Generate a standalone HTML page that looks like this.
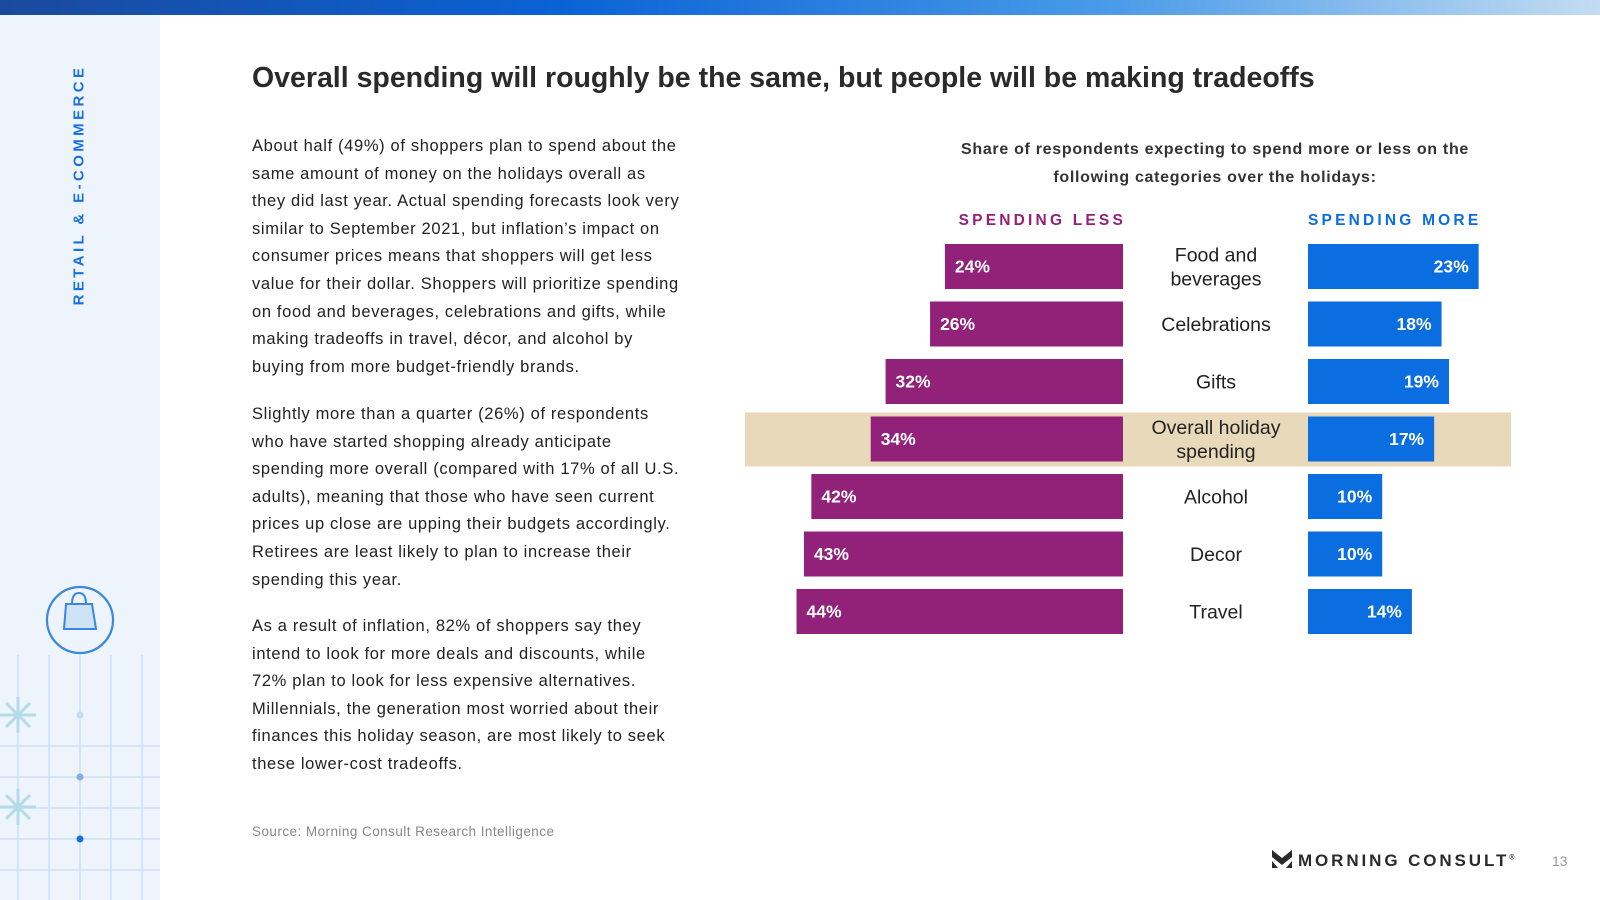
<!DOCTYPE html>
<html><head><meta charset="utf-8">
<style>
*{margin:0;padding:0;box-sizing:border-box}
body{width:1600px;height:900px;position:relative;background:#fff;font-family:"Liberation Sans",sans-serif;overflow:hidden;color:#222}
.abs{position:absolute}
#topbar{left:0;top:0;width:1600px;height:15px;background:linear-gradient(90deg,#1a4a9c 0%,#0a62d6 35%,#4b9ce8 70%,#c4dcf2 100%)}
#side{left:0;top:15px;width:160px;height:885px;background:#edf4fb}
#vert{left:79px;top:185px;transform:translate(-50%,-50%) rotate(-90deg);white-space:nowrap;color:#1a6fe0;font-weight:bold;font-size:15px;letter-spacing:3.4px}
#title{left:252px;top:62px;font-size:28.5px;font-weight:bold;color:#2a2a2a;white-space:nowrap}
.para{left:252px;font-size:16.5px;letter-spacing:0.65px;line-height:27.6px;color:#222;white-space:nowrap}
#source{left:252px;top:824px;font-size:13.5px;letter-spacing:0.45px;color:#888}
#ctitle{left:915px;top:136px;width:600px;text-align:center;font-size:16px;letter-spacing:0.7px;font-weight:bold;line-height:28px;color:#333}
.hdr{top:212px;font-size:15.5px;font-weight:bold;letter-spacing:3.2px}
#logo{left:1272px;top:850px;font-size:17px;font-weight:bold;letter-spacing:2.9px;color:#2a2a2a;white-space:nowrap}
#pg{left:1552px;top:853px;font-size:14px;color:#999}
</style></head><body>
<div id="topbar" class="abs"></div>
<div id="side" class="abs">
<svg width="160" height="885" style="position:absolute;left:0;top:0">
<g stroke="#c9dcf0" stroke-width="1.2">
<line x1="18" y1="640" x2="18" y2="885"/><line x1="49" y1="640" x2="49" y2="885"/><line x1="80" y1="640" x2="80" y2="885"/><line x1="111" y1="640" x2="111" y2="885"/><line x1="142" y1="640" x2="142" y2="885"/>
<line x1="0" y1="731" x2="160" y2="731"/><line x1="0" y1="762" x2="160" y2="762"/><line x1="0" y1="793" x2="160" y2="793"/><line x1="0" y1="824" x2="160" y2="824"/><line x1="0" y1="855" x2="160" y2="855"/>
</g>
<g stroke="#b5dbe8" stroke-width="3"><line x1="0" y1="700" x2="36" y2="700"/><line x1="18" y1="682" x2="18" y2="718"/><line x1="6" y1="688" x2="30" y2="712"/><line x1="30" y1="688" x2="6" y2="712"/>
<line x1="0" y1="792" x2="36" y2="792"/><line x1="18" y1="774" x2="18" y2="810"/><line x1="6" y1="780" x2="30" y2="804"/><line x1="30" y1="780" x2="6" y2="804"/></g>
<circle cx="80" cy="700" r="3.5" fill="#c2dcec"/><circle cx="80" cy="762" r="3.5" fill="#7fb0e0"/><circle cx="80" cy="824" r="3.5" fill="#1a6fe0"/>
<circle cx="80" cy="605" r="33" fill="none" stroke="#3a86e0" stroke-width="2.2"/>
<path d="M66 589 L92 589 L96 614 L64 614 Z" fill="#cfe3f6" stroke="#3a86e0" stroke-width="2"/>
<path d="M72 589 Q72 578 79 578 Q86 578 86 589" fill="none" stroke="#3a86e0" stroke-width="2"/>
</svg>
</div>
<div id="vert" class="abs">RETAIL &amp; E-COMMERCE</div>
<div id="title" class="abs">Overall spending will roughly be the same, but people will be making tradeoffs</div>
<div class="abs para" style="top:133px">About half (49%) of shoppers plan to spend about the<br>same amount of money on the holidays overall as<br>they did last year. Actual spending forecasts look very<br>similar to September 2021, but inflation’s impact on<br>consumer prices means that shoppers will get less<br>value for their dollar. Shoppers will prioritize spending<br>on food and beverages, celebrations and gifts, while<br>making tradeoffs in travel, décor, and alcohol by<br>buying from more budget-friendly brands.</div>
<div class="abs para" style="top:401px">Slightly more than a quarter (26%) of respondents<br>who have started shopping already anticipate<br>spending more overall (compared with 17% of all U.S.<br>adults), meaning that those who have seen current<br>prices up close are upping their budgets accordingly.<br>Retirees are least likely to plan to increase their<br>spending this year.</div>
<div class="abs para" style="top:613px">As a result of inflation, 82% of shoppers say they<br>intend to look for more deals and discounts, while<br>72% plan to look for less expensive alternatives.<br>Millennials, the generation most worried about their<br>finances this holiday season, are most likely to seek<br>these lower-cost tradeoffs.</div>
<div id="source" class="abs">Source: Morning Consult Research Intelligence</div>
<div id="ctitle" class="abs">Share of respondents expecting to spend more or less on the<br>following categories over the holidays:</div>
<div class="abs hdr" style="right:474px;color:#92217a">SPENDING LESS</div>
<div class="abs hdr" style="left:1308px;color:#0a6ee0">SPENDING MORE</div>
<svg id="chart" class="abs" style="left:0;top:0" width="1600" height="900"></svg>
<div id="logo" class="abs"><span style="display:inline-block;vertical-align:-2px;margin-right:6px">
<svg width="20" height="18"><path d="M0 0 L10 8 L20 0 L20 7 L10 15 L0 7 Z" fill="#2a2a2a"/><path d="M0 11 L6 18 L0 18 Z M20 11 L14 18 L20 18Z" fill="#2a2a2a"/></svg></span>MORNING CONSULT<sup style="font-size:7px">®</sup></div>
<div id="pg" class="abs">13</div>
<script>
const categories = ["Food and|beverages","Celebrations","Gifts","Overall holiday|spending","Alcohol","Decor","Travel"];
const lessValues = [24,26,32,34,42,43,44];
const moreValues = [23,18,19,17,10,10,14];
const highlightIndex = 3;
const NS="http://www.w3.org/2000/svg";
const svg=document.getElementById('chart');
const center=1123, moreStart=1308, pxPer=7.42, rowTop=244, rowStep=57.5, barH=45, labelX=1216;
const xLess=v=>center-v*pxPer, xMore=v=>moreStart+v*pxPer, yRow=i=>rowTop+i*rowStep;
function mk(tag,attrs){const e=document.createElementNS(NS,tag);for(const k in attrs)e.setAttribute(k,attrs[k]);svg.appendChild(e);return e;}
const hb=mk('rect',{x:745,y:yRow(highlightIndex)-4,width:766,height:barH+9,fill:'#e8d9bb'});


categories.forEach((c,i)=>{
  const y=yRow(i);
  const r1=mk('rect',{x:xLess(lessValues[i]),y:y,width:center-xLess(lessValues[i]),height:barH,fill:'#92217a'});
  
  
  const t1=mk('text',{x:xLess(lessValues[i])+10,y:y+barH/2+6,fill:'#fff','font-size':17.5,'font-weight':'bold','font-family':'Liberation Sans, sans-serif'});
  t1.textContent=lessValues[i]+'%';
  
  
  const r2=mk('rect',{x:moreStart,y:y,width:xMore(moreValues[i])-moreStart,height:barH,fill:'#0a6ee0'});
  
  
  const t2=mk('text',{x:xMore(moreValues[i])-10,y:y+barH/2+6,fill:'#fff','font-size':17.5,'font-weight':'bold','text-anchor':'end','font-family':'Liberation Sans, sans-serif'});
  t2.textContent=moreValues[i]+'%';
  
  
  const parts=c.split('|');
  const t3=mk('text',{x:labelX,'text-anchor':'middle','font-size':19.5,fill:'#222','font-family':'Liberation Sans, sans-serif'});
  
  
  parts.forEach((p,j)=>{const ts=document.createElementNS(NS,'tspan');ts.setAttribute('x',labelX);
    ts.setAttribute('y',y+barH/2+7+(j-(parts.length-1)/2)*24);ts.textContent=p;t3.appendChild(ts);});
});
</script>
</body></html>
